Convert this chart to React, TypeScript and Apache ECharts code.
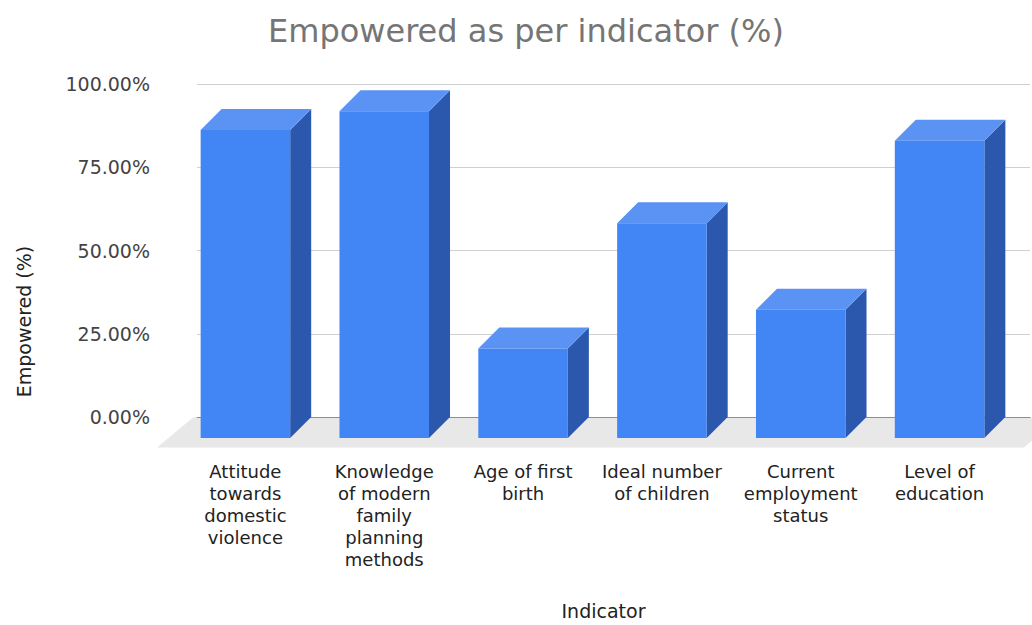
import React, { useEffect, useRef } from "react";
import * as echarts from "echarts";

const categories = [
  "Attitude\ntowards\ndomestic\nviolence",
  "Knowledge\nof modern\nfamily\nplanning\nmethods",
  "Age of first\nbirth",
  "Ideal number\nof children",
  "Current\nemployment\nstatus",
  "Level of\neducation",
];
const empowered = [92.5, 98.1, 26.9, 64.5, 38.5, 89.3];
const yTicks = [0, 25, 50, 75, 100];

const FONT = "'DejaVu Sans', 'Liberation Sans', sans-serif";
const DX = 21;
const DY = 21;
const FRONT = "#4285f4";
const TOP = "#5a93f3";
const SIDE = "#2b58ad";

export default function App() {
  const ref = useRef<HTMLDivElement>(null);
  useEffect(() => {
    const chart = echarts.init(ref.current!, null, { renderer: "svg" });
    chart.setOption({
      animation: false,
      backgroundColor: "#ffffff",
      title: {
        text: "Empowered as per indicator (%)",
        left: 268,
        top: 15,
        padding: 0,
        textStyle: { fontFamily: FONT, fontSize: 32, fontWeight: "normal", color: "#757575" },
      },
      grid: { left: 197, right: 2, top: 84, bottom: 206 },
      xAxis: {
        type: "category",
        data: categories,
        axisTick: { show: false },
        axisLine: { show: true, lineStyle: { color: "#333333", width: 1 } },
        axisLabel: {
          interval: 0,
          margin: 43,
          fontFamily: FONT,
          fontSize: 18,
          lineHeight: 22,
          color: "#222222",
          padding: [0, 42, 0, 0],
        },
        name: "Indicator",
        nameLocation: "middle",
        nameGap: 184,
        nameTextStyle: { fontFamily: FONT, fontSize: 19, color: "#222222", padding: [0, 20, 0, 0] },
      },
      yAxis: {
        type: "value",
        min: yTicks[0],
        max: yTicks[yTicks.length - 1],
        interval: yTicks[1] - yTicks[0],
        axisLine: { show: false },
        axisTick: { show: false },
        axisLabel: {
          margin: 47,
          fontFamily: FONT,
          fontSize: 19,
          color: "#444444",
          formatter: (v: number) => v.toFixed(2) + "%",
        },
        splitLine: { lineStyle: { color: "#d0d0d0", width: 1 } },
        name: "Empowered (%)",
        nameLocation: "middle",
        nameRotate: 90,
        nameGap: 164,
        nameTextStyle: { fontFamily: FONT, fontSize: 19, color: "#222222", padding: [0, 142, 0, 0] },
      },
      series: [
        {
          type: "custom",
          silent: true,
          z: 1,
          data: [[0, 0]],
          encode: { x: 0, y: 1 },
          renderItem: (params: any) => {
            const cs = params.coordSys;
            const yb = cs.y + cs.height + 0.5;
            const xl = cs.x - 4;
            const xr = cs.x + cs.width + 30;
            return {
              type: "polygon",
              shape: {
                points: [
                  [xl, yb],
                  [xr, yb],
                  [xr - 36, yb + 30],
                  [xl - 36, yb + 30],
                ],
              },
              style: { fill: "#e8e8e8" },
            };
          },
        },
        {
          type: "custom",
          z: 3,
          data: empowered.map((v, i) => [i, v]),
          encode: { x: 0, y: 1 },
          renderItem: (params: any, api: any) => {
            const xi = api.value(0);
            const v = api.value(1);
            const base = api.coord([xi, 0]);
            const top = api.coord([xi, v]);
            const w = api.size([1, 0])[0] * 0.645;
            const bl = base[0] - w / 2;
            const br = base[0] + w / 2;
            const fl = bl - DX;
            const fr = br - DX;
            const yTB = top[1];
            const yTF = top[1] + DY;
            const yBB = base[1];
            const yBF = base[1] + DY;
            return {
              type: "group",
              children: [
                {
                  type: "polygon",
                  shape: { points: [[fr, yTF], [br, yTB], [br, yBB], [fr, yBF]] },
                  style: { fill: SIDE },
                },
                {
                  type: "polygon",
                  shape: { points: [[fl, yTF], [bl, yTB], [br, yTB], [fr, yTF]] },
                  style: { fill: TOP },
                },
                {
                  type: "rect",
                  shape: { x: fl, y: yTF, width: w, height: yBF - yTF },
                  style: { fill: FRONT },
                },
              ],
            };
          },
        },
      ],
    });
    return () => chart.dispose();
  }, []);
  return (
    <div
      ref={ref}
      style={{ position: "fixed", left: 0, top: 0, width: 1032, height: 625 }}
    />
  );
}
